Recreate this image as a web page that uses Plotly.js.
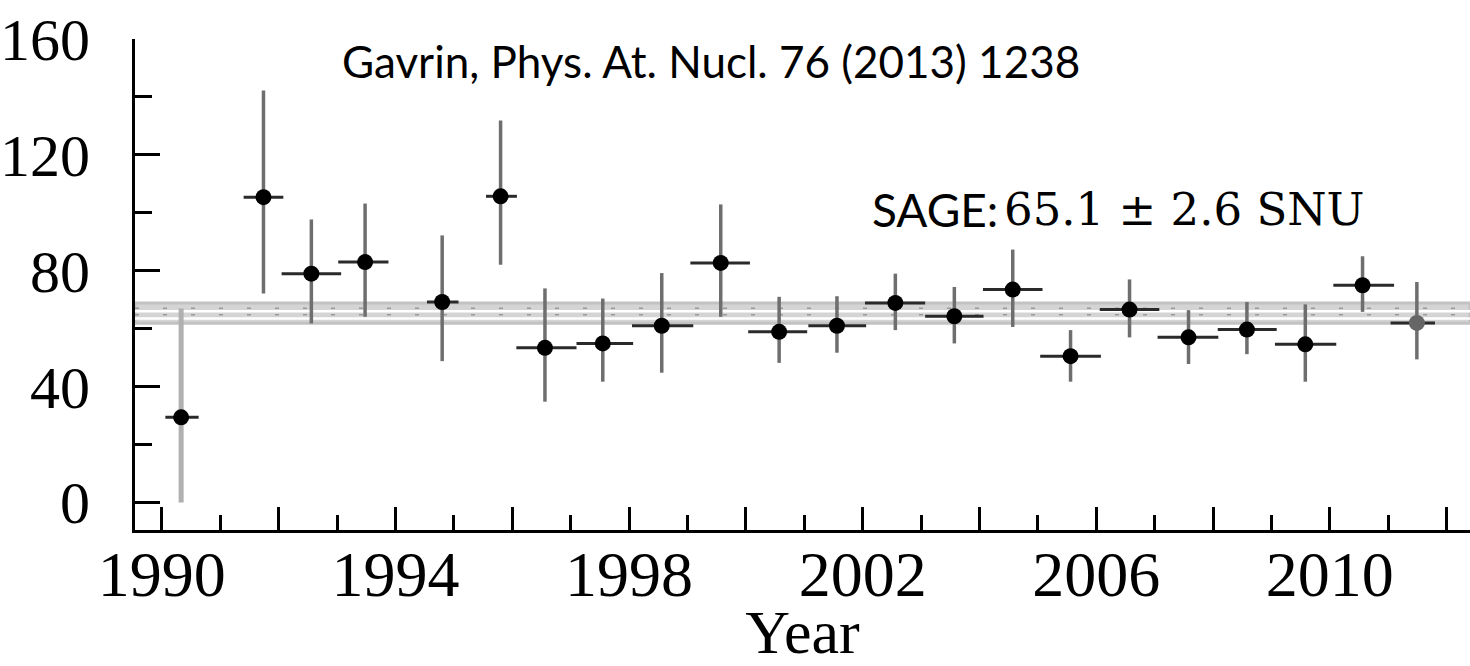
<!DOCTYPE html>
<html>
<head>
<meta charset="utf-8">
<script src="https://cdn.plot.ly/plotly-3.0.1.min.js"></script>
<style>html,body{margin:0;padding:0;background:#fff;}#chart{width:1470px;height:666px;}</style>
</head>
<body>
<div id="chart"></div>
<script>
// ---- data ----
var yearMid   = [1990.33, 1991.74, 1992.56, 1993.48, 1994.80, 1995.80, 1996.56, 1997.55, 1998.56, 1999.57, 2000.57, 2001.56, 2002.56, 2003.57, 2004.57, 2005.56, 2006.57, 2007.58, 2008.58, 2009.58, 2010.56, 2011.49];
var yearStart = [1990.06, 1991.40, 1992.05, 1993.02, 1994.54, 1995.55, 1996.07, 1997.10, 1998.05, 1999.05, 2000.04, 2001.07, 2002.04, 2003.07, 2004.06, 2005.04, 2006.06, 2007.05, 2008.08, 2009.06, 2010.06, 2011.04];
var yearEnd   = [1990.63, 1992.08, 1993.07, 1993.88, 1995.08, 1996.08, 1997.10, 1998.07, 1999.10, 2000.07, 2001.05, 2002.06, 2003.07, 2004.07, 2005.08, 2006.08, 2007.08, 2008.09, 2009.09, 2010.11, 2011.10, 2011.80];
var rate      = [29.4, 105.4, 79.0, 83.0, 69.2, 105.7, 53.4, 54.9, 61.0, 82.7, 58.9, 61.0, 68.9, 64.3, 73.5, 50.5, 66.6, 57.0, 59.7, 54.6, 75.0, 62.0];
var rateUpper = [67.0, 142.2, 97.7, 103.2, 92.2, 131.9, 73.9, 70.4, 79.2, 102.9, 71.0, 71.2, 79.0, 74.4, 87.3, 59.5, 77.0, 66.4, 69.2, 68.4, 85.0, 76.1];
var rateLower = [0.0, 72.1, 61.8, 64.1, 48.8, 82.1, 34.8, 41.7, 44.8, 64.1, 48.2, 51.7, 59.5, 54.9, 60.6, 41.7, 57.0, 47.8, 51.2, 41.7, 65.8, 49.4];
var sageMean = 65.1;
var sageErr  = 2.6;
var xTickVals  = [1990, 1992, 1994, 1996, 1998, 2000, 2002, 2004, 2006, 2008, 2010, 2012];
var xTickText  = ['1990', '', '1994', '', '1998', '', '2002', '', '2006', '', '2010', ''];
var yTickVals  = [0, 40, 80, 120, 160];
var citation = 'Gavrin, Phys. At. Nucl. 76 (2013) 1238';

// ---- derived ----
function sub(a, b) { return a.map(function (v, i) { return +(v - b[i]).toFixed(3); }); }
var exPlus = sub(yearEnd, yearMid), exMinus = sub(yearMid, yearStart);
var eyPlus = sub(rateUpper, rate), eyMinus = sub(rate, rateLower);
var markerColors = rate.map(function (v, i) { return i === rate.length - 1 ? '#666666' : '#000000'; });

function makeTrace(from, to, vColor, vWidth) {
  var s = function (a) { return a.slice(from, to); };
  return {
    type: 'scatter', mode: 'markers', x: s(yearMid), y: s(rate),
    marker: { color: s(markerColors), size: 16, line: { width: 0 } },
    error_x: { type: 'data', symmetric: false, array: s(exPlus), arrayminus: s(exMinus), color: '#2a2a2a', thickness: 3, width: 0 },
    error_y: { type: 'data', symmetric: false, array: s(eyPlus), arrayminus: s(eyMinus), color: vColor, thickness: vWidth, width: 0 },
    hoverinfo: 'x+y', showlegend: false, cliponaxis: false
  };
}
var traces = [makeTrace(0, 1, '#b0b0b0', 5), makeTrace(1, rate.length, '#6e6e6e', 3.5)];

var shapes = [
  { type: 'rect', xref: 'paper', x0: 0, x1: 1, yref: 'y', y0: sageMean - sageErr - 0.6, y1: sageMean + sageErr + 1.2,
    fillcolor: '#d4d4d4', line: { color: '#c2c2c2', width: 3 }, layer: 'below' },
  { type: 'line', xref: 'paper', x0: 0, x1: 1, yref: 'y', y0: sageMean + sageErr * 0.35, y1: sageMean + sageErr * 0.35,
    line: { color: '#ffffff', width: 2.5 }, layer: 'below' },
  { type: 'line', xref: 'paper', x0: 0, x1: 1, yref: 'y', y0: sageMean - sageErr * 0.6, y1: sageMean - sageErr * 0.6,
    line: { color: '#ffffff', width: 2.5 }, layer: 'below' },
  { type: 'line', xref: 'paper', x0: 0, x1: 1, yref: 'y', y0: sageMean + sageErr * 0.75, y1: sageMean + sageErr * 0.75,
    line: { color: '#9a9a9a', width: 1.5, dash: '4px,24px' }, layer: 'below' },
  { type: 'line', xref: 'paper', x0: 0, x1: 1, yref: 'y', y0: sageMean - sageErr * 0.1, y1: sageMean - sageErr * 0.1,
    line: { color: '#9a9a9a', width: 1.5, dash: '4px,24px' }, layer: 'below' }
];

var sageText = sageMean.toFixed(1) + ' \u00B1 ' + sageErr.toFixed(1) + ' SNU';

var layout = {
  width: 1470, height: 666,
  margin: { l: 135, r: 0, t: 39, b: 136, pad: 0 },
  paper_bgcolor: '#ffffff', plot_bgcolor: '#ffffff',
  font: { family: 'Liberation Serif, Times New Roman, serif', color: '#000', size: 62 },
  xaxis: {
    range: [1989.54, 2012.40], showgrid: false, zeroline: false,
    showline: true, linecolor: '#000', linewidth: 3,
    tickmode: 'array', tickvals: xTickVals, ticktext: xTickText,
    ticks: 'inside', ticklen: 23, tickwidth: 3, tickcolor: '#000',
    minor: { tickmode: 'linear', tick0: 1990, dtick: 1, ticks: 'inside', ticklen: 15, tickwidth: 3, tickcolor: '#000', showgrid: false },
    ticklabelstandoff: -14,
    tickfont: { family: 'Liberation Serif, serif', size: 64, color: '#000' },
    title: { text: 'Year', font: { family: 'Liberation Serif, serif', size: 62, color: '#000' }, standoff: 40 }
  },
  yaxis: {
    range: [-9.5, 160], showgrid: false, zeroline: false,
    showline: true, linecolor: '#000', linewidth: 3,
    tickmode: 'array', tickvals: yTickVals,
    ticks: 'inside', ticklen: 25, tickwidth: 3, tickcolor: '#000',
    minor: { tickmode: 'linear', tick0: 0, dtick: 20, ticks: 'inside', ticklen: 17, tickwidth: 3, tickcolor: '#000', showgrid: false },
    ticklabelstandoff: 30,
    tickfont: { family: 'Liberation Serif, serif', size: 60, color: '#000' }
  },
  shapes: shapes,
  annotations: [
    { xref: 'paper', yref: 'paper', x: 0.1536, y: 0.955, xanchor: 'left', yanchor: 'middle', showarrow: false,
      text: citation, font: { family: 'Lato, Open Sans, sans-serif', size: 44, color: '#000' } },
    { xref: 'paper', yref: 'paper', x: 0.5506, y: 0.652, xanchor: 'left', yanchor: 'middle', showarrow: false,
      text: 'SAGE:', font: { family: 'Lato, Open Sans, sans-serif', size: 46, color: '#000' } },
    { xref: 'paper', yref: 'paper', x: 0.6494, y: 0.652, xanchor: 'left', yanchor: 'middle', showarrow: false,
      text: sageText, font: { family: 'DejaVu Serif, serif', size: 45, color: '#000' } }
  ]
};

Plotly.newPlot('chart', traces, layout, { staticPlot: true, displayModeBar: false });
</script>
</body>
</html>
